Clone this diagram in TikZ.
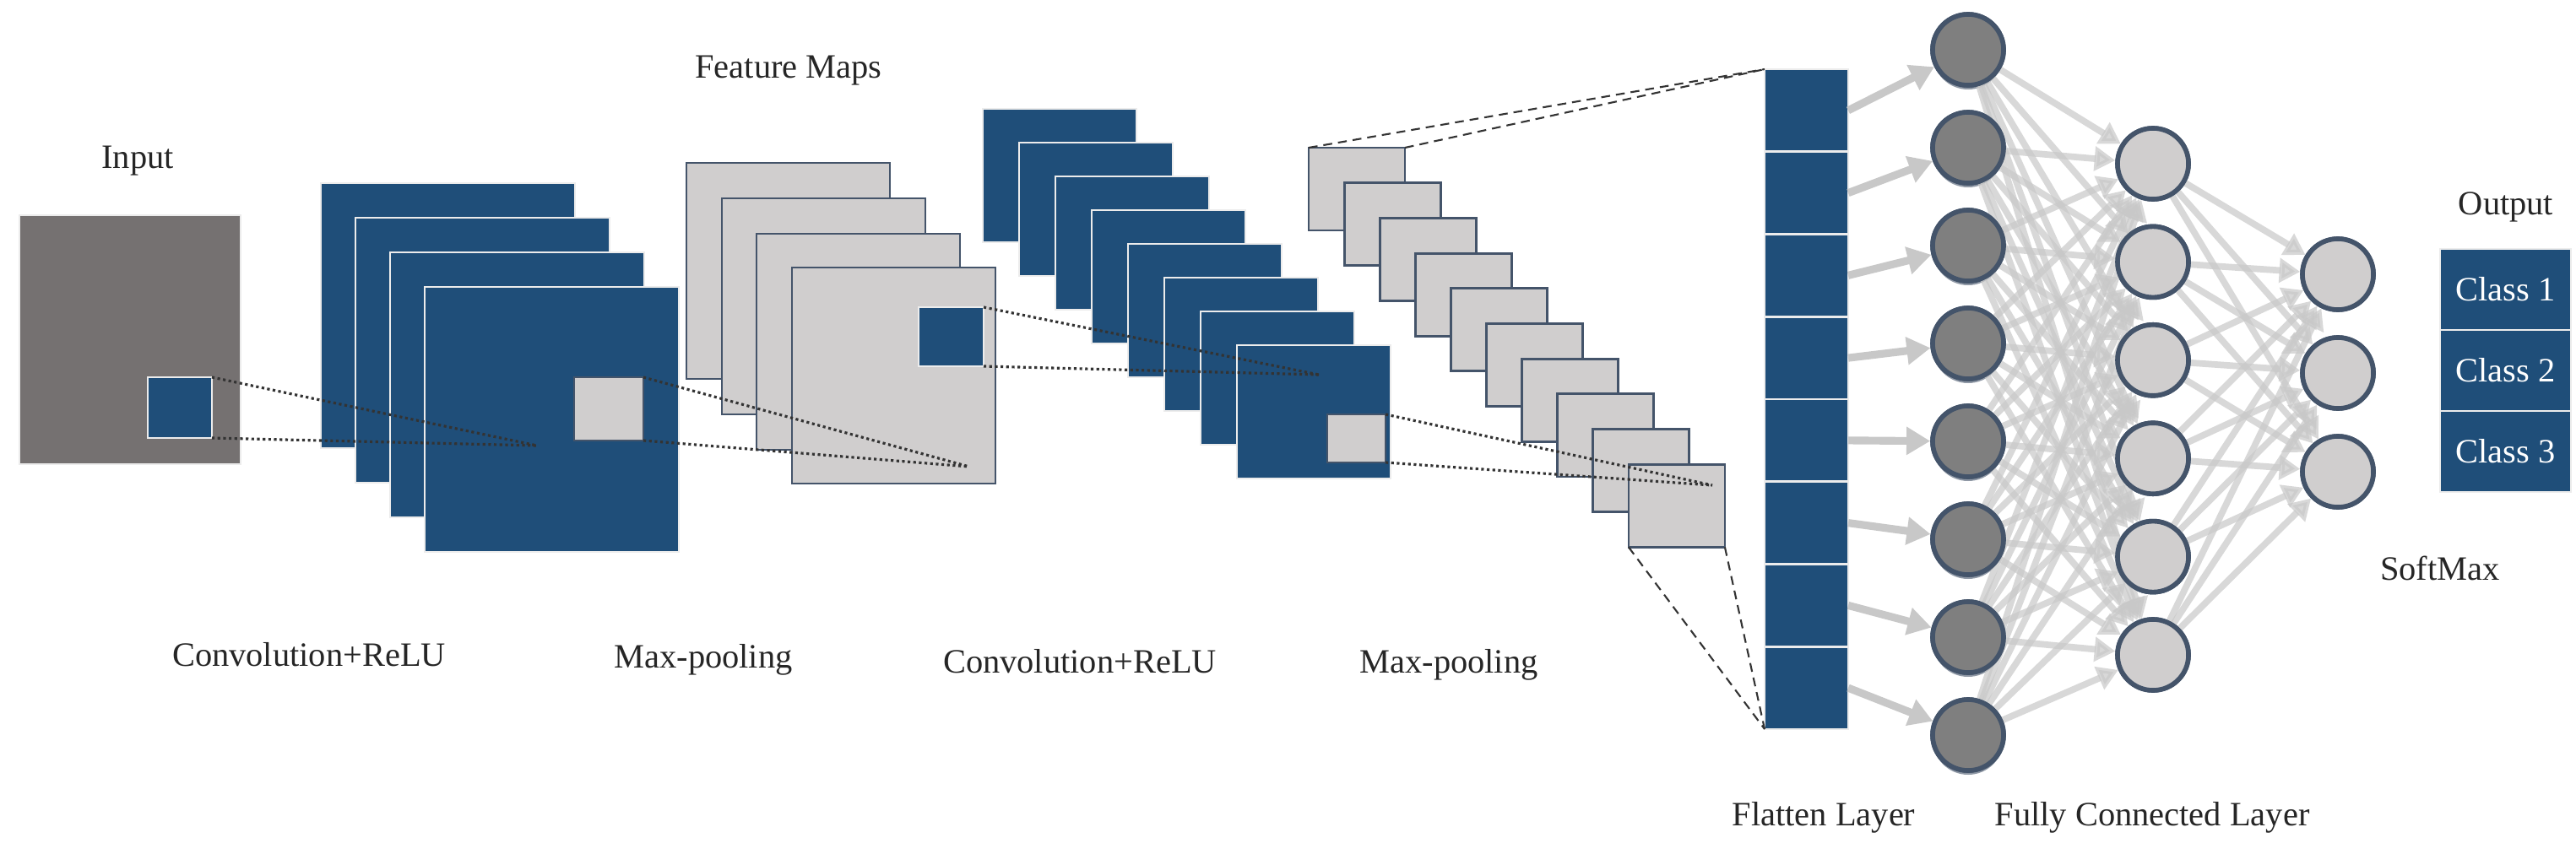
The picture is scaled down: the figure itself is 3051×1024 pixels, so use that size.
\documentclass[tikz,border=0pt]{standalone}
\usepackage{fontspec}
\setmainfont{Liberation Serif}
\usetikzlibrary{arrows.meta}
\definecolor{cblue}{RGB}{31,78,121}
\definecolor{cgray}{RGB}{117,113,113}
\definecolor{clight}{RGB}{208,206,206}
\definecolor{cedge}{RGB}{68,84,106}
\definecolor{cdark}{RGB}{127,127,127}
\definecolor{carrow}{RGB}{200,200,200}
\newcommand\rbox[6]{\node[#1,anchor=north west,minimum width={(#4)*0.01cm},minimum height={(#5)*0.01cm}] (#2) at (#3) {#6};}
\begin{document}
\begin{tikzpicture}[x=0.01cm,y=-0.01cm,
  bluebox/.style={fill=cblue,draw=white!85!gray,line width=0.8pt,inner sep=0,outer sep=0},
  graybox/.style={fill=clight,draw=cedge,line width=0.8pt,inner sep=0,outer sep=0},
  inbox/.style={fill=cgray,draw=white!85!gray,line width=0.8pt,inner sep=0,outer sep=0},
  lbl/.style={font=\fontsize{11.5}{14}\selectfont,text=black!85},
  dot/.style={densely dotted,line width=0.9pt,black!80},
  dcirc/.style={circle,fill=cdark,draw=cedge,line width=1.6pt,minimum size=0.84cm,inner sep=0},
  lcirc/.style={circle,fill=clight,draw=cedge,line width=1.6pt,minimum size=0.84cm,inner sep=0},
  arr/.style={draw=carrow,opacity=0.7,line width=2.2pt,-{Triangle[width=8pt,length=7pt]}},
  arrb/.style={draw=carrow,line width=2.6pt,-{Triangle[width=9pt,length=8pt]}}]
\useasboundingbox (0,0) rectangle (3051,1024);
% input
\rbox{inbox}{in}{23,255}{262}{295}{}
\rbox{bluebox}{ins}{175,447}{76}{72}{}
% conv 1
\foreach \i/\x/\y in {1/380/217,2/421/258,3/462/299,4/503/340}{\rbox{bluebox}{ca\i}{\x,\y}{301}{314}{}}
\rbox{graybox}{cas}{680,447}{82}{75}{}
\coordinate (p1) at (636,528);
\draw[dot] (ins.north east) -- (p1);
\draw[dot] (ins.south east) -- (p1);
% pool 1
\foreach \i/\x/\y in {1/813/193,2/855/235,3/896/277,4/938/317}{\rbox{graybox}{pa\i}{\x,\y}{241}{256}{}}
\rbox{bluebox}{pas}{1088,364}{77}{70}{}
\coordinate (p2) at (1148,553);
\draw[dot] (cas.north east) -- (p2);
\draw[dot] (cas.south east) -- (p2);
% conv 2
\foreach \i in {0,...,7}{\pgfmathsetmacro\xx{1164+43*\i}\pgfmathsetmacro\yy{129+40*\i}
  \rbox{bluebox}{cb\i}{\xx,\yy}{182}{158}{}}
\rbox{graybox}{cbs}{1572,491}{69}{57}{}
\coordinate (p3) at (1562,444);
\draw[dot] (pas.north east) -- (p3);
\draw[dot] (pas.south east) -- (p3);
% pool 2
\foreach \i in {0,...,9}{\pgfmathsetmacro\xx{1550+42.1*\i}\pgfmathsetmacro\yy{175+41.7*\i}
  \rbox{graybox}{pb\i}{\xx,\yy}{114}{98}{}}
\coordinate (p4) at (2028,575);
\draw[dot] (cbs.north east) -- (p4);
\draw[dot] (cbs.south east) -- (p4);
% flatten
\foreach \i in {0,...,7}{\pgfmathsetmacro\yy{82+97.75*\i}
  \rbox{bluebox}{f\i}{2090,\yy}{99}{97.75}{}}
\draw[dot,densely dashed,line width=0.6pt] (pb0.north west) -- (f0.north west);
\draw[dot,densely dashed,line width=0.6pt] (pb0.north east) -- (f0.north west);
\draw[dot,densely dashed,line width=0.6pt] (pb9.south west) -- (f7.south west);
\draw[dot,densely dashed,line width=0.6pt] (pb9.south east) -- (f7.south west);
% layers
\foreach \i in {0,...,7}{\pgfmathsetmacro\yy{59+116*\i}
  \fill[cedge!60] (2331,\yy+5) circle (42);
  \node[dcirc] (d\i) at (2331,\yy) {};}
\foreach \i in {0,...,5}{\pgfmathsetmacro\yy{194+116.4*\i}\node[lcirc] (h\i) at (2550,\yy) {};}
\foreach \i in {0,...,2}{\pgfmathsetmacro\yy{325+117*\i}\node[lcirc] (o\i) at (2769,\yy) {};}
\foreach \i in {0,...,7}{\draw[arrb] (f\i.east) -- (d\i);}
\foreach \i in {0,...,7}{\foreach \j in {0,...,5}{\draw[arr] (d\i) -- (h\j);}}
\foreach \i in {0,...,5}{\foreach \j in {0,...,2}{\draw[arr] (h\i) -- (o\j);}}
\foreach \i in {0,...,7}{\node[dcirc] at (d\i) {};}
\foreach \i in {0,...,5}{\node[lcirc] at (h\i) {};}
\foreach \i in {0,...,2}{\node[lcirc] at (o\i) {};}
% output
\rbox{bluebox,lbl,text=white}{oc1}{2890,295}{155}{96}{Class 1}
\rbox{bluebox,lbl,text=white}{oc2}{2890,391}{155}{96}{Class 2}
\rbox{bluebox,lbl,text=white}{oc3}{2890,487}{155}{96}{Class 3}
% labels
\node[lbl] (t1) at (163,191) {Input};
\node[lbl] (t2) at (934,84) {Feature Maps};
\node[lbl] (t3) at (366,776) {Convolution+ReLU};
\node[lbl] (t4) at (833,782) {Max-pooling};
\node[lbl] (t5) at (1279,784) {Convolution+ReLU};
\node[lbl] (t6) at (1716,788) {Max-pooling};
\node[lbl] (t7) at (2160,969) {Flatten Layer};
\node[lbl] (t8) at (2549,969) {Fully Connected Layer};
\node[lbl] (t9) at (2968,245) {Output};
\node[lbl] (t10) at (2890,673) {SoftMax};
\end{tikzpicture}
\end{document}
